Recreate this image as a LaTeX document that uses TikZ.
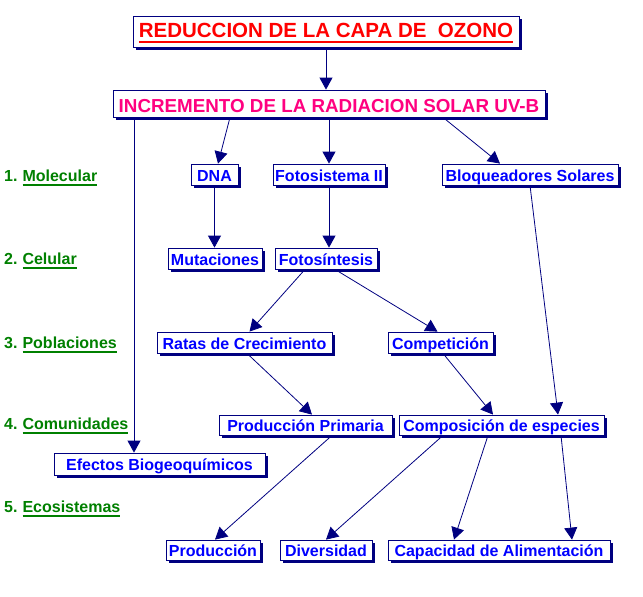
\documentclass[tikz,border=0pt]{standalone}
\usepackage{fontspec}
\setmainfont{Liberation Sans}
\usetikzlibrary{arrows.meta, calc, shadows}
\definecolor{navy}{RGB}{0,0,128}
\definecolor{boxblue}{RGB}{0,0,255}
\definecolor{levelgreen}{RGB}{0,128,0}
\definecolor{titlered}{RGB}{255,0,0}
\definecolor{uvpink}{RGB}{255,0,128}
\newsavebox{\ulbox}
\newcommand{\ulword}[1]{\sbox{\ulbox}{#1}\usebox{\ulbox}\llap{\rule[-5pt]{\wd\ulbox}{2pt}}}

\begin{document}
\begin{tikzpicture}[x=1pt, y=-1pt, >={Triangle[length=12pt, width=13pt]},
  box/.style={draw=navy, fill=white, line width=0.8pt, inner sep=0pt, text=boxblue,
    font=\bfseries\fontsize{16}{18}\selectfont, text height=14pt, text depth=1pt,
    general shadow={fill=navy, shadow xshift=3pt, shadow yshift=-3pt}},
  level/.style={anchor=base west, inner sep=0pt, text=levelgreen,
    font=\bfseries\fontsize{16}{18}\selectfont},
  link/.style={->, draw=navy, line width=0.8pt}]
  \useasboundingbox (0,0) rectangle (643,597);
  % Top of the chain
  \node[box, minimum width=386, minimum height=31, text=titlered, text height=15pt, text depth=2.5pt,
    font=\bfseries\fontsize{20.5}{22}\selectfont] (title) at (326,31.5)
    {\ulword{REDUCCION DE LA CAPA DE\ \ OZONO}};
  \node[box, minimum width=432, minimum height=27, text=uvpink, text height=17pt, text depth=0pt,
    font=\bfseries\fontsize{18.8}{21}\selectfont] (incr) at (329,103.5)
    {INCREMENTO DE LA RADIACION SOLAR UV-B};
  % Levels
  \node[level] (lev1) at (4,181) {1.\hspace{5pt}\ulword{Molecular}};
  \node[level] (lev2) at (4,264) {2.\hspace{5pt}\ulword{Celular}};
  \node[level] (lev3) at (4,348) {3.\hspace{5pt}\ulword{Poblaciones}};
  \node[level] (lev4) at (4,429) {4.\hspace{5pt}\ulword{Comunidades}};
  \node[level] (lev5) at (4,512) {5.\hspace{5pt}\ulword{Ecosistemas}};
  % Boxes
  \node[box, minimum width=47, minimum height=21] (dna) at (214.5,174.5) {DNA};
  \node[box, minimum width=112, minimum height=21] (fsII) at (329,174.5) {Fotosistema II};
  \node[box, minimum width=176, minimum height=21] (bloq) at (530,174.5) {Bloqueadores Solares};
  \node[box, minimum width=94, minimum height=21] (mut) at (215,258.5) {Mutaciones};
  \node[box, minimum width=102, minimum height=21] (fotos) at (326,258.5) {Fotosíntesis};
  \node[box, minimum width=175, minimum height=21] (ratas) at (244.5,342.5) {Ratas de Crecimiento};
  \node[box, minimum width=105, minimum height=21] (comp) at (440.5,342.5) {Competición};
  \node[box, minimum width=173, minimum height=20] (prodprim) at (305.5,425) {Producción Primaria};
  \node[box, minimum width=205, minimum height=20] (compos) at (501.5,425) {Composición de especies};
  \node[box, minimum width=211, minimum height=22] (efectos) at (159.5,464) {Efectos Biogeoquímicos};
  \node[box, minimum width=94, minimum height=20] (prod) at (213,550) {Producción};
  \node[box, minimum width=92, minimum height=20] (div) at (326,550) {Diversidad};
  \node[box, minimum width=222, minimum height=20] (capac) at (499,550) {Capacidad de Alimentación};
  % Arrows
  \draw[link] (title.south) -- (title.south |- incr.north);
  \draw[link] ($(incr.south)+(-99,0)$) -- ($(dna.north)+(3.5,0)$);
  \draw[link] (fsII.north |- incr.south) -- (fsII.north);
  \draw[link] ($(incr.south)+(114,0)$) -- ($(bloq.north)+(-30,0)$);
  \coordinate (efin) at ($(efectos.north)+(-25.5,0)$);
  \draw[link] (efin |- incr.south) -- (efin);
  \draw[link] (dna.south) -- (dna.south |- mut.north);
  \draw[link] (fsII.south) -- (fsII.south |- fotos.north);
  \draw[link] ($(fotos.south)+(-21,0)$) -- ($(ratas.north)+(5,0)$);
  \draw[link] ($(fotos.south)+(9,0)$) -- ($(comp.north)+(-3,0)$);
  \draw[link] (bloq.south) -- ($(compos.north)+(56.5,0)$);
  \draw[link] ($(ratas.south)+(2.5,0)$) -- ($(prodprim.north)+(6.5,0)$);
  \draw[link] ($(comp.south)+(2.5,0)$) -- ($(compos.north)+(-8.5,0)$);
  \draw[link] ($(prodprim.south)+(26.5,0)$) -- ($(prod.north)+(2,0)$);
  \draw[link] ($(compos.south)+(-58.5,0)$) -- (div.north);
  \draw[link] ($(compos.south)+(-13.5,0)$) -- ($(capac.north)+(-45,0)$);
  \draw[link] ($(compos.south)+(59.5,0)$) -- ($(capac.north)+(73,0)$);
\end{tikzpicture}
\end{document}
